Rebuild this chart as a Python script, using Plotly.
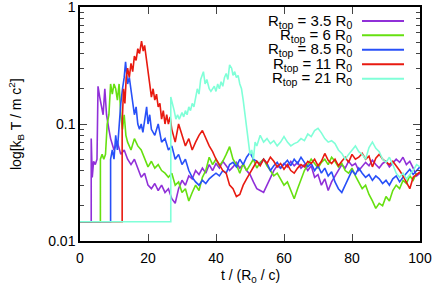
import plotly.graph_objects as go

FLOOR = 0.0146

t_p = [0, 3.3, 3.3, 3.6, 4, 4.5, 5, 5.3, 5.8, 6.3, 6.8, 7.3, 7.8, 8.5, 9] + list(range(10, 101))
v_p = [FLOOR, FLOOR, 0.075, 0.035, 0.048, 0.045, 0.05, 0.21, 0.17, 0.14, 0.12, 0.2, 0.12, 0.09, 0.075,
       0.06, 0.07, 0.055, 0.06, 0.05, 0.045, 0.05, 0.042, 0.035, 0.038,
       0.03, 0.028, 0.031, 0.027, 0.03, 0.026, 0.028, 0.023, 0.021, 0.028,
       0.033, 0.03, 0.036, 0.034, 0.04, 0.037, 0.042, 0.038, 0.045, 0.04,
       0.046, 0.042, 0.048, 0.044, 0.04, 0.043, 0.047, 0.042, 0.045, 0.04,
       0.037, 0.032, 0.028, 0.027, 0.026, 0.03, 0.035, 0.04, 0.044, 0.042,
       0.046, 0.043, 0.048, 0.044, 0.047, 0.042, 0.045, 0.04, 0.044, 0.035,
       0.037, 0.03, 0.034, 0.027, 0.032, 0.036, 0.04, 0.045, 0.042, 0.048,
       0.044, 0.046, 0.04, 0.043, 0.047, 0.044, 0.049, 0.045, 0.042, 0.046,
       0.048, 0.043, 0.046, 0.05, 0.047, 0.052, 0.045, 0.048, 0.042, 0.036,
       0.038]

t_g = [0, 6, 6, 6.5, 7, 7.5, 8, 8.5, 9, 9.5, 10, 10.5, 11, 11.5, 12, 12.5, 13, 13.5] + list(range(14, 101))
v_g = [FLOOR, FLOOR, 0.05, 0.055, 0.05, 0.055, 0.1, 0.12, 0.22, 0.18, 0.22, 0.2, 0.16, 0.22, 0.12, 0.09, 0.12, 0.08,
       0.07, 0.06, 0.075, 0.065, 0.06, 0.05, 0.043, 0.048,
       0.042, 0.045, 0.04, 0.038, 0.035, 0.038, 0.03, 0.032, 0.026, 0.028,
       0.022, 0.026, 0.03, 0.027, 0.035, 0.04, 0.052, 0.045, 0.05, 0.044,
       0.048, 0.055, 0.064, 0.05, 0.045, 0.038, 0.046, 0.04, 0.045, 0.05,
       0.042, 0.047, 0.05, 0.044, 0.04, 0.036, 0.038, 0.034, 0.03, 0.032,
       0.027, 0.023, 0.028, 0.033, 0.04, 0.045, 0.05, 0.046, 0.042, 0.047,
       0.05, 0.045, 0.052, 0.048, 0.043, 0.046, 0.04, 0.038, 0.042, 0.036,
       0.032, 0.028, 0.03, 0.025, 0.022, 0.019, 0.021, 0.02, 0.024, 0.022,
       0.027, 0.03, 0.028, 0.033, 0.031, 0.036, 0.033, 0.038]

t_b = [0, 9, 9, 9.5, 10, 10.5, 11, 11.5, 12, 12.5, 13, 13.4, 14, 14.5, 15, 15.5, 16, 16.5, 17, 17.5,
       18, 18.5, 19, 19.6, 20, 20.5] + list(range(21, 101))
v_b = [FLOOR, FLOOR, 0.05, 0.06, 0.05, 0.08, 0.06, 0.1, 0.15, 0.2, 0.25, 0.34, 0.22, 0.25, 0.2, 0.15, 0.12, 0.14, 0.1, 0.09,
       0.1, 0.085, 0.11, 0.14, 0.1, 0.12,
       0.09, 0.08, 0.1, 0.07, 0.075, 0.06, 0.065, 0.05, 0.055, 0.045,
       0.05, 0.04, 0.035, 0.032, 0.03, 0.033, 0.031, 0.034, 0.036, 0.038,
       0.036, 0.04, 0.038, 0.045, 0.047, 0.043, 0.05, 0.045, 0.052, 0.057,
       0.05, 0.048, 0.045, 0.05, 0.046, 0.04, 0.044, 0.047, 0.042, 0.045,
       0.049, 0.044, 0.05, 0.046, 0.052, 0.047, 0.043, 0.046, 0.04, 0.044,
       0.038, 0.042, 0.036, 0.039, 0.032, 0.028, 0.026, 0.03, 0.035, 0.04,
       0.037, 0.042, 0.038, 0.035, 0.037, 0.033, 0.036, 0.034, 0.031, 0.033,
       0.03, 0.034, 0.036, 0.032, 0.035, 0.038, 0.041, 0.037, 0.04, 0.043]

t_r = [0, 12.4, 12.4, 12.8, 13.2, 13.6, 14, 14.5, 15, 15.5, 16, 16.5, 17, 17.5, 18.1, 18.6, 19, 19.5, 20, 20.5,
       21, 21.5, 22, 22.5, 23, 23.5, 24, 24.5, 25, 25.5, 26, 26.5] + list(range(27, 101))
v_r = [FLOOR, FLOOR, 0.1, 0.2, 0.15, 0.25, 0.3, 0.25, 0.33, 0.28, 0.38, 0.35, 0.44, 0.4, 0.51, 0.42, 0.47, 0.35, 0.28, 0.22,
       0.17, 0.2, 0.16, 0.18, 0.14, 0.15, 0.11, 0.13, 0.1, 0.12, 0.1, 0.115,
       0.09, 0.07, 0.1, 0.08, 0.065, 0.075, 0.06, 0.07, 0.08, 0.088,
       0.075, 0.065, 0.058, 0.05, 0.045, 0.04, 0.038, 0.03, 0.028, 0.024,
       0.025, 0.03, 0.034, 0.038, 0.043, 0.048, 0.044, 0.05, 0.046, 0.052,
       0.048, 0.043, 0.046, 0.041, 0.045, 0.04, 0.038, 0.042, 0.045, 0.043,
       0.048, 0.046, 0.05, 0.044, 0.048, 0.056, 0.049, 0.046, 0.05, 0.044,
       0.048, 0.052, 0.047, 0.055, 0.05, 0.052, 0.056, 0.05, 0.053, 0.043,
       0.051, 0.055, 0.05, 0.047, 0.045, 0.048, 0.044, 0.04, 0.036, 0.032,
       0.028, 0.035, 0.037, 0.039]

t_c = [0, 26.7, 26.7, 27.2, 27.7, 28.2, 28.7, 29.2, 30, 30.5, 31, 31.5, 32, 32.5, 33, 33.5, 34, 34.5, 35, 35.5,
       36.3, 36.8, 37.3, 38, 38.5, 39, 39.5, 40, 40.5, 41, 41.5, 42, 42.5, 43, 43.5, 44, 44.6, 45, 45.5, 46,
       46.5, 47, 47.5, 48, 48.5, 49, 49.5, 50, 50.5, 51, 51.5] + list(range(52, 101))
v_c = [FLOOR, FLOOR, 0.17, 0.15, 0.13, 0.11, 0.12, 0.11, 0.125, 0.115, 0.13, 0.12, 0.14, 0.13, 0.15, 0.14, 0.17, 0.2, 0.18, 0.24,
       0.28, 0.22, 0.24, 0.2, 0.19, 0.2, 0.21, 0.19, 0.22, 0.2, 0.23, 0.21, 0.25, 0.27, 0.24, 0.32, 0.3, 0.26, 0.28, 0.25,
       0.26, 0.22, 0.2, 0.16, 0.12, 0.09, 0.07, 0.055, 0.06, 0.05, 0.07,
       0.065, 0.08, 0.07, 0.075, 0.068, 0.072, 0.065, 0.07, 0.078, 0.07,
       0.065, 0.068, 0.07, 0.075, 0.072, 0.082, 0.078, 0.088, 0.092, 0.084,
       0.075, 0.07, 0.072, 0.068, 0.06, 0.056, 0.05, 0.055, 0.06, 0.065,
       0.058, 0.055, 0.05, 0.063, 0.07, 0.062, 0.058, 0.05, 0.047, 0.052,
       0.045, 0.038, 0.035, 0.038, 0.034, 0.037, 0.04, 0.045, 0.043, 0.048]

names = ["R<sub>top</sub> = 3.5 R<sub>0</sub>", "R<sub>top</sub> = 6 R<sub>0</sub>",
         "R<sub>top</sub> = 8.5 R<sub>0</sub>", "R<sub>top</sub> = 11 R<sub>0</sub>",
         "R<sub>top</sub> = 21 R<sub>0</sub>"]
colors = ["#9030d8", "#66e010", "#2850f8", "#e81a10", "#80ffd8"]
series = [(t_p, v_p), (t_g, v_g), (t_b, v_b), (t_r, v_r), (t_c, v_c)]

x_ticks = [0, 20, 40, 60, 80, 100]
y_ticks = [0.01, 0.1, 1]
y_ticktext = ["0.01", "0.1", "1"]
y_minor = [0.02, 0.03, 0.04, 0.05, 0.06, 0.07, 0.08, 0.09,
           0.2, 0.3, 0.4, 0.5, 0.6, 0.7, 0.8, 0.9]

FONT = "Liberation Sans, Arial, sans-serif"

fig = go.Figure()
for (tt, vv), name, col in zip(series, names, colors):
    fig.add_trace(go.Scatter(x=tt, y=vv, mode="lines", name=name,
                             line=dict(color=col, width=1.6), showlegend=False))

# legend (gnuplot style: text then line sample)
row_y = [21, 35.3, 49.7, 64.3, 78.7]
for name, col, ry in zip(names, colors, row_y):
    py = (241 - ry) / 234
    fig.add_annotation(x=(354 - 80) / 340, y=py, xref="paper", yref="paper",
                       text=name, showarrow=False, xanchor="right", yanchor="middle",
                       font=dict(family=FONT, size=15, color="black"))
    fig.add_shape(type="line", xref="paper", yref="paper",
                  x0=(362 - 80) / 340, x1=(404 - 80) / 340, y0=py, y1=py,
                  line=dict(color=col, width=2))

fig.add_annotation(x=-64 / 340, y=0.5, xref="paper", yref="paper",
                   text="log[k<sub>B</sub> T / m c<sup>2</sup>]", textangle=-90,
                   showarrow=False, xanchor="center", yanchor="middle",
                   font=dict(family=FONT, size=14, color="black"))
fig.add_annotation(x=0.5, y=-35 / 234, xref="paper", yref="paper",
                   text="t / (R<sub>0</sub> / c)", showarrow=False,
                   xanchor="center", yanchor="middle",
                   font=dict(family=FONT, size=14, color="black"))

fig.update_layout(
    width=435, height=291,
    margin=dict(l=80, r=15, t=7, b=50, autoexpand=False),
    paper_bgcolor="white", plot_bgcolor="white",
    font=dict(family=FONT, size=14, color="black"),
    showlegend=False,
    xaxis=dict(range=[0, 100], tickvals=x_ticks, ticks="inside", ticklen=7,
               tickwidth=1, showline=True, linecolor="black", linewidth=1.5,
               mirror="allticks", showgrid=False, zeroline=False, automargin=False,
               ticklabeloverflow="allow", ticklabelstandoff=3),
    yaxis=dict(type="log", range=[-2, 0], tickvals=y_ticks, ticktext=y_ticktext,
               ticks="inside", ticklen=7, tickwidth=1, showline=True,
               linecolor="black", linewidth=1.5, mirror="allticks",
               showgrid=False, zeroline=False, automargin=False,
               ticklabeloverflow="allow",
               minor=dict(tickmode="array", tickvals=y_minor, ticks="inside",
                          ticklen=4, tickwidth=1, showgrid=False)),
)

fig.write_html("out.html", config={"displayModeBar": False},
               post_script="document.body.style.margin='0';document.body.style.overflow='hidden';")
